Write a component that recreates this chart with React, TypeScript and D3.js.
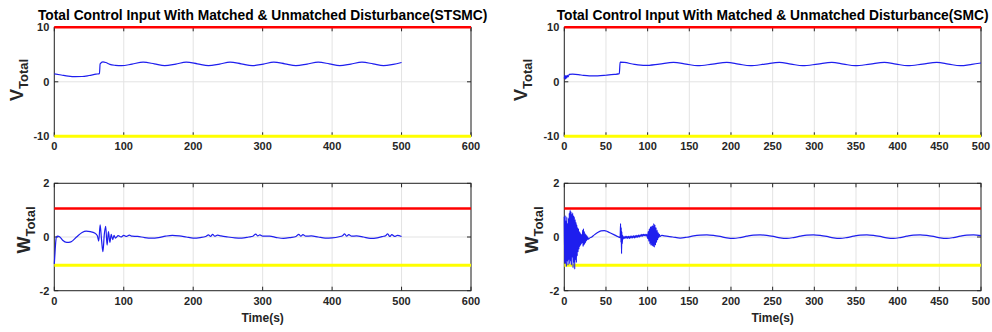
import React from 'react';
import * as d3 from 'd3';

// control input data: [time (s), value]
const stsmcV: [number, number][] = [
  [0, 1.45], [10, 1.25], [20, 1.05], [30, 0.95], [40, 0.97], [50, 1.15], [60, 1.4], [65, 1.5],
  [66, 3.3], [70, 3.65], [74, 3.55], [80, 3.2], [88, 3.02], [97, 2.95], [112, 3.25], [128, 3.6],
  [144, 3.3], [159, 2.95], [175, 3.25], [190, 3.6], [206, 3.3], [222, 2.95], [238, 3.25], [253, 3.6],
  [269, 3.3], [285, 2.95], [301, 3.25], [316, 3.6], [332, 3.3], [348, 2.95], [364, 3.25], [380, 3.6],
  [396, 3.3], [411, 2.95], [427, 3.25], [443, 3.6], [459, 3.3], [474, 2.95], [488, 3.2], [500, 3.55],
];

const smcV: [number, number][] = [
  [0, 0.6], [0.7, 1.2], [1.4, 0.5], [2.1, 1.1], [2.8, 0.7], [3.5, 1.2], [4.5, 0.9], [6, 1.35],
  [10, 1.4], [20, 1.25], [30, 1.1], [40, 1.1], [50, 1.2], [60, 1.35], [66, 1.5], [67, 3.6],
  [72, 3.55], [84, 3.2], [97, 3.0], [114, 3.25], [131, 3.55], [146, 3.25], [160, 2.95], [178, 3.25],
  [195, 3.55], [209, 3.25], [223, 2.95], [241, 3.25], [258, 3.55], [272, 3.25], [286, 2.95], [304, 3.25],
  [321, 3.55], [335, 3.25], [349, 2.95], [367, 3.25], [384, 3.55], [398, 3.25], [412, 2.95], [430, 3.25],
  [447, 3.55], [461, 3.25], [475, 2.95], [489, 3.2], [500, 3.45],
];

const stsmcW: [number, number][] = [
  [0, -1.0], [1, -0.6], [2, -0.2], [3, 0.0], [5, 0.03], [8, 0.0], [12, -0.12], [18, -0.2],
  [24, -0.18], [32, 0.0], [40, 0.17], [46, 0.22], [52, 0.2], [58, 0.15], [62, 0.05], [64, -0.15],
  [66, 0.45], [68, -0.1], [70, -0.55], [72, 0.1], [74, 0.4], [76, -0.3], [78, 0.2], [80, -0.2],
  [82, 0.1], [84, -0.1], [86, 0.06], [88, -0.04], [92, 0.05], [96, 0.0], [100, 0.06], [104, 0.02],
  [108, 0.07], [112, 0.03], [120, 0.02], [130, -0.02], [140, -0.04], [150, -0.02], [160, 0.03], [170, 0.06],
  [180, 0.04], [190, 0.0], [200, -0.04], [210, -0.02], [218, 0.02], [222, 0.08], [225, 0.02], [228, 0.1],
  [231, 0.03], [235, 0.07], [240, 0.04], [250, 0.0], [260, -0.03], [270, -0.04], [280, 0.0], [286, 0.03],
  [290, 0.11], [293, 0.04], [296, 0.08], [300, 0.03], [310, 0.03], [320, -0.02], [330, -0.05], [340, -0.02],
  [348, 0.02], [352, 0.1], [355, 0.03], [358, 0.09], [362, 0.03], [370, 0.04], [380, 0.0], [390, -0.04],
  [400, -0.03], [410, 0.01], [415, 0.05], [418, 0.12], [421, 0.03], [424, 0.09], [428, 0.03], [435, 0.04],
  [445, 0.0], [455, -0.05], [465, -0.03], [473, 0.02], [477, 0.05], [480, 0.12], [483, 0.02], [486, 0.09],
  [490, 0.02], [494, 0.06], [500, 0.02],
];

const smcW: [number, number][] = [
  [0, 0.75], [0.5, -0.95], [1, 0.8], [1.5, -1.0], [2, 0.6], [2.5, -1.1], [3, 0.75], [3.5, -0.9],
  [4, 0.5], [4.5, -1.05], [5, 0.7], [5.5, -0.85], [6, 0.9], [6.5, -1.0], [7, 1.0], [7.5, -0.9],
  [8, 0.95], [8.5, -1.05], [9, 0.85], [9.5, -0.75], [10, 0.9], [10.5, -1.15], [11, 0.8], [11.5, -0.95],
  [12, 0.75], [12.5, -1.2], [13, 0.65], [13.5, -0.85], [14, 0.55], [14.5, -0.95], [15, 0.45], [15.5, -0.7],
  [16, 0.35], [16.5, -0.55], [17, 0.3], [17.5, -0.45], [18, 0.2], [18.5, -0.35], [19, 0.15], [19.5, -0.3],
  [20, 0.1], [20.5, -0.25], [21, 0.08], [21.5, -0.2], [22, 0.25], [22.5, -0.35], [23, 0.3], [23.5, -0.3],
  [24, 0.2], [24.5, -0.25], [25, 0.12], [25.5, -0.2], [26, 0.08], [26.5, -0.14], [27, 0.04], [27.5, -0.1],
  [28, 0.0], [29, -0.08], [30, -0.05], [33, 0.0], [36, 0.08], [40, 0.17], [44, 0.23], [48, 0.24],
  [52, 0.2], [56, 0.14], [60, 0.08], [64, 0.02], [67, -0.02], [67.5, 0.5], [68, -0.2], [68.3, 0.35],
  [68.7, -0.62], [69, 0.2], [69.5, -0.25], [70, 0.05], [70.5, -0.08], [71, 0.01], [72, -0.05], [73, 0.02],
  [74, -0.05], [75, 0.02], [76, -0.05], [77, 0.02], [78, -0.05], [79, 0.03], [80, -0.04], [81, 0.03],
  [82, -0.03], [83, 0.04], [84, -0.03], [85, 0.05], [86, -0.02], [87, 0.06], [88, -0.01], [89, 0.07],
  [90, 0.0], [91, 0.08], [92, 0.02], [93, 0.1], [94, 0.03], [95, 0.1], [96, 0.05], [97, 0.1],
  [98, 0.04], [99, 0.1], [100, -0.05], [100.7, 0.2], [101.4, -0.15], [102, 0.3], [102.7, -0.25], [103.4, 0.38],
  [104, -0.3], [104.7, 0.4], [105.4, -0.32], [106, 0.42], [106.7, -0.35], [107.4, 0.5], [108, -0.38], [108.7, 0.45],
  [109.4, -0.3], [110, 0.35], [110.7, -0.2], [111.4, 0.25], [112, -0.1], [112.7, 0.15], [113.4, -0.02], [114, 0.1],
  [115, 0.02], [117, 0.06], [120, 0.04], [130, 0.0], [139, -0.04], [147, -0.01], [155, 0.04], [163, 0.07],
  [171, 0.08], [179, 0.06], [187, 0.02], [195, -0.03], [203, -0.05], [211, -0.02], [219, 0.03], [227, 0.07],
  [235, 0.08], [243, 0.06], [251, 0.02], [259, -0.03], [267, -0.05], [275, -0.02], [283, 0.03], [291, 0.07],
  [299, 0.08], [307, 0.06], [315, 0.02], [323, -0.03], [331, -0.05], [339, -0.02], [347, 0.03], [355, 0.07],
  [363, 0.08], [371, 0.06], [379, 0.02], [387, -0.03], [395, -0.05], [403, -0.02], [411, 0.03], [419, 0.07],
  [427, 0.08], [435, 0.06], [443, 0.02], [451, -0.03], [459, -0.05], [467, -0.02], [475, 0.03], [483, 0.07],
  [491, 0.08], [500, 0.05],
];

// saturation limits
const vLimits = [10, -10];
const wLimits = [1.06, -1.05];

// tick labels
const xTicksStsmc = [0, 100, 200, 300, 400, 500, 600];
const xTicksSmc = [0, 50, 100, 150, 200, 250, 300, 350, 400, 450, 500];
const vTicks = [-10, 0, 10];
const wTicks = [-2, 0, 2];

const titles = [
  'Total Control Input With Matched & Unmatched Disturbance(STSMC)',
  'Total Control Input With Matched & Unmatched Disturbance(SMC)',
];

const FONT = '"Liberation Sans", Arial, sans-serif';

type PanelProps = {
  data: [number, number][];
  xTicks: number[];
  yTicks: number[];
  limits: number[];
  box: { x0: number; x1: number; y0: number; y1: number };
  sym: string;
  labelX: number;
  labelY: number;
  title?: string;
  xLabel?: string;
};

function Panel({ data, xTicks, yTicks, limits, box, sym, labelX, labelY, title, xLabel }: PanelProps) {
  const x = d3.scaleLinear().domain(d3.extent(xTicks) as [number, number]).range([box.x0, box.x1]);
  const y = d3.scaleLinear().domain(d3.extent(yTicks) as [number, number]).range([box.y1, box.y0]);
  const yGrid = y.ticks(yTicks.length - 1);
  const line = d3.line<[number, number]>()
    .x(d => x(d[0]))
    .y(d => y(d[1]))
    .curve(d3.curveMonotoneX);

  return (
    <g fontFamily={FONT} fontWeight="bold">
      {title && (
        <text x={(box.x0 + box.x1) / 2} y={20} textAnchor="middle" fontSize={13.8} fill="#000">
          {title}
        </text>
      )}
      <rect x={box.x0} y={box.y0} width={box.x1 - box.x0} height={box.y1 - box.y0} fill="#fff" />
      {xTicks.map(t => (
        <line key={'gx' + t} x1={x(t)} x2={x(t)} y1={box.y0} y2={box.y1} stroke="#e3e3e3" />
      ))}
      {yGrid.map(t => (
        <line key={'gy' + t} x1={box.x0} x2={box.x1} y1={y(t)} y2={y(t)} stroke="#e3e3e3" />
      ))}
      <rect x={box.x0} y={box.y0} width={box.x1 - box.x0} height={box.y1 - box.y0}
        fill="none" stroke="#262626" strokeWidth={1} />
      {xTicks.map(t => (
        <g key={'tx' + t}>
          <line x1={x(t)} x2={x(t)} y1={box.y1} y2={box.y1 - 4} stroke="#262626" />
          <line x1={x(t)} x2={x(t)} y1={box.y0} y2={box.y0 + 4} stroke="#262626" />
          <text x={x(t)} y={box.y1 + 14} textAnchor="middle" fontSize={11} fill="#262626">{t}</text>
        </g>
      ))}
      {yTicks.map(t => (
        <g key={'ty' + t}>
          <line x1={box.x0} x2={box.x0 + 4} y1={y(t)} y2={y(t)} stroke="#262626" />
          <line x1={box.x1} x2={box.x1 - 4} y1={y(t)} y2={y(t)} stroke="#262626" />
          <text x={box.x0 - 5} y={y(t)} dy="0.36em" textAnchor="end" fontSize={11} fill="#262626">{t}</text>
        </g>
      ))}
      <line x1={box.x0} x2={box.x1} y1={y(limits[0])} y2={y(limits[0])} stroke="#ff0000" strokeWidth={2.5} />
      <line x1={box.x0} x2={box.x1} y1={y(limits[1])} y2={y(limits[1])} stroke="#ffff00" strokeWidth={3} />
      <path d={line(data) ?? ''} fill="none" stroke="#1e1eee" strokeWidth={1.2} />
      <text transform={`translate(${labelX},${labelY}) rotate(-90)`} textAnchor="middle" fill="#262626">
        <tspan fontSize={18}>{sym}</tspan>
        <tspan fontSize={13} dy={5}>Total</tspan>
      </text>
      {xLabel && (
        <text x={(box.x0 + box.x1) / 2} y={322} textAnchor="middle" fontSize={12} fill="#262626">
          {xLabel}
        </text>
      )}
    </g>
  );
}

export default function App() {
  const top = { y0: 27.3, y1: 136.3 };
  const bottom = { y0: 183.3, y1: 290.7 };
  const left = { x0: 54.3, x1: 471 };
  const right = { x0: 564.3, x1: 981 };

  return (
    <svg width={992} height={332} style={{ position: 'absolute', left: 0, top: 0, background: '#fff' }}>
      <rect width={992} height={332} fill="#fff" />
      <Panel data={stsmcV} xTicks={xTicksStsmc} yTicks={vTicks} limits={vLimits}
        box={{ ...left, ...top }} sym="V" labelX={23} labelY={80} title={titles[0]} />
      <Panel data={smcV} xTicks={xTicksSmc} yTicks={vTicks} limits={vLimits}
        box={{ ...right, ...top }} sym="V" labelX={527} labelY={80} title={titles[1]} />
      <Panel data={stsmcW} xTicks={xTicksStsmc} yTicks={wTicks} limits={wLimits}
        box={{ ...left, ...bottom }} sym="W" labelX={30} labelY={230} xLabel="Time(s)" />
      <Panel data={smcW} xTicks={xTicksSmc} yTicks={wTicks} limits={wLimits}
        box={{ ...right, ...bottom }} sym="W" labelX={538} labelY={230} xLabel="Time(s)" />
    </svg>
  );
}
